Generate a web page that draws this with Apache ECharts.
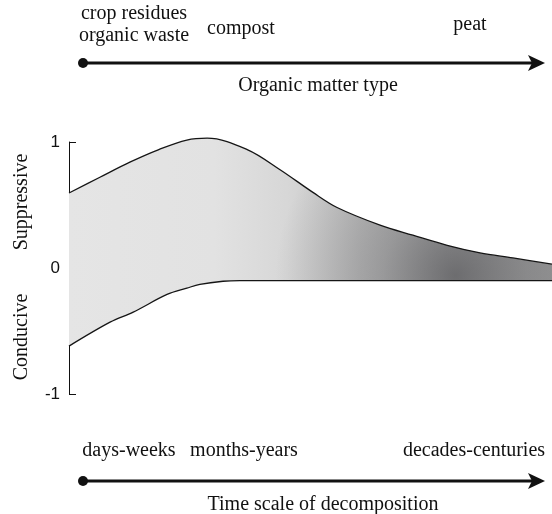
<!DOCTYPE html>
<html><head><meta charset="utf-8">
<script src="https://cdn.jsdelivr.net/npm/echarts@6/dist/echarts.min.js"></script>
<style>html,body{margin:0;padding:0;background:#fff}#c{width:552px;height:514px}</style>
</head><body><div id="c"></div>
<script>
// ---- data ----
const yTicks = [-1, 0, 1];
const upperX = [0, 6.4, 12.6, 18.6, 24.4, 28.6, 36.9, 43.7, 50.5, 55.5, 64.4, 71.2, 78.3, 85.1, 91.9, 100];
const upperY = [0.595, 0.72, 0.84, 0.94, 1.015, 1.03, 0.94, 0.78, 0.60, 0.48, 0.34, 0.26, 0.18, 0.12, 0.08, 0.03];
const lowerX = [0, 8.5, 13.3, 20.3, 24.4, 27.1, 31.9, 35.4, 47.8, 68.5, 100];
const lowerY = [-0.62, -0.43, -0.35, -0.21, -0.16, -0.13, -0.105, -0.1, -0.1, -0.1, -0.1];
const yLabels = ['Suppressive', 'Conducive'];
const organicTypes = ['crop residues\norganic waste', 'compost', 'peat'];
const timeScales = ['days-weeks', 'months-years', 'decades-centuries'];
const topAxisTitle = 'Organic matter type';
const bottomAxisTitle = 'Time scale of decomposition';

const upperData = upperX.map((x, i) => [x, upperY[i]]);
const lowerData = lowerX.map((x, i) => [x, lowerY[i]]);

const chart = echarts.init(document.getElementById('c'), null, {renderer: 'canvas'});
const SERIF = '"Liberation Serif", "Times New Roman", serif';
const FONT = '20px ' + SERIF;

chart.setOption({
  animation: false,
  grid: {left: 69, right: 0, top: 142, bottom: 120},
  xAxis: {type: 'value', min: 0, max: 100, show: false},
  yAxis: {
    type: 'value', min: yTicks[0], max: yTicks[yTicks.length - 1], interval: 1,
    axisLine: {show: true, lineStyle: {color: '#111', width: 1}},
    axisTick: {show: true, inside: true, length: 7, lineStyle: {color: '#111', width: 1}},
    axisLabel: {color: '#111', fontSize: 17, fontFamily: '"Liberation Sans", Arial, sans-serif', margin: 9},
    splitLine: {show: false}
  },
  series: []
});

// gradient geometry through the chart's own scales
const pL = chart.convertToPixel({gridIndex: 0}, [0, 0]);
const pR = chart.convertToPixel({gridIndex: 0}, [100, 0]);
const pC = chart.convertToPixel({gridIndex: 0}, [80, -0.06]);

const baseGrad = new echarts.graphic.LinearGradient(pL[0], 0, pR[0], 0, [
  {offset: 0, color: '#e5e5e5'},
  {offset: 0.3, color: '#e2e2e2'},
  {offset: 0.45, color: '#d7d7d7'},
  {offset: 0.6, color: '#c5c5c5'},
  {offset: 1, color: '#a7a7a7'}
], true);
const darkGrad = new echarts.graphic.RadialGradient(pC[0], pC[1], 180, [
  {offset: 0, color: 'rgba(60,60,64,0.6)'},
  {offset: 0.4, color: 'rgba(60,60,64,0.3)'},
  {offset: 1, color: 'rgba(60,60,64,0)'}
], true);

function areaSeries(data, color, z) {
  return {type: 'line', data, smooth: 0.35, symbol: 'none', z, clip: false,
    lineStyle: {width: 0, opacity: 0}, areaStyle: {color, opacity: 1}, silent: true};
}
function lineSeries(data) {
  return {type: 'line', data, smooth: 0.35, symbol: 'none', z: 5, clip: false,
    lineStyle: {color: '#151515', width: 1.3}, silent: true};
}

const txt = (text, x, y, extra) => Object.assign({
  type: 'text', x, y, silent: true,
  style: {text, font: FONT, fill: '#111', textAlign: 'center', textVerticalAlign: 'middle', lineHeight: 22}
}, extra || {});

function arrow(y) {
  return [
    {type: 'line', shape: {x1: 83, y1: y, x2: 534, y2: y}, style: {stroke: '#111', lineWidth: 3}},
    {type: 'circle', shape: {cx: 83, cy: y, r: 5}, style: {fill: '#111'}},
    {type: 'polygon', shape: {points: [[528, y - 8], [545, y], [528, y + 8], [532, y]]}, style: {fill: '#111'}}
  ];
}

chart.setOption({
  series: [
    areaSeries(upperData, baseGrad, 1),
    areaSeries(lowerData, baseGrad, 1),
    areaSeries(upperData, darkGrad, 2),
    areaSeries(lowerData, darkGrad, 2),
    lineSeries(upperData),
    lineSeries(lowerData)
  ],
  graphic: [
    txt(organicTypes[0], 134, 25),
    txt(organicTypes[1], 241, 29),
    txt(organicTypes[2], 470, 25),
    ...arrow(63),
    txt(topAxisTitle, 318, 86),
    txt(timeScales[0], 129, 451),
    txt(timeScales[1], 244, 451),
    txt(timeScales[2], 474, 451),
    ...arrow(481),
    txt(bottomAxisTitle, 323, 505),
    txt(yLabels[0], 22, 202, {rotation: Math.PI / 2}),
    txt(yLabels[1], 22, 337, {rotation: Math.PI / 2})
  ]
});
</script></body></html>
